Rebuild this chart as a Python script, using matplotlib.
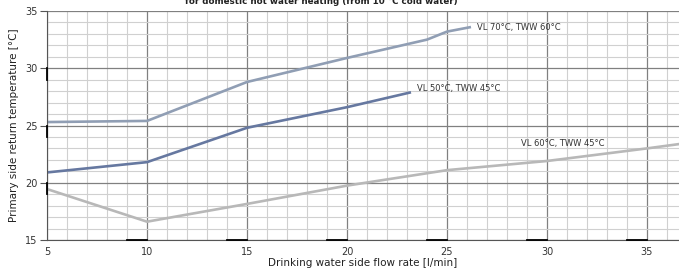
import matplotlib
matplotlib.use('Agg')
import matplotlib.pyplot as plt
from matplotlib.ticker import MultipleLocator

# flow rate [l/min] vs primary side return temperature [°C]
vl70_x = [5, 10, 15, 20, 24, 25, 26.2]
vl70_y = [25.3, 25.4, 28.8, 30.9, 32.5, 33.2, 33.6]
vl50_x = [5, 10, 15, 20, 23.2]
vl50_y = [20.9, 21.8, 24.8, 26.6, 27.9]
vl60_x = [5, 10, 15, 20, 25, 30, 35, 36.7]
vl60_y = [19.45, 16.6, 18.15, 19.75, 21.1, 21.9, 23.0, 23.4]

labels = ['VL 70°C, TWW 60°C', 'VL 50°C, TWW 45°C', 'VL 60°C, TWW 45°C']
label_pos = [(26.5, 33.55), (23.5, 28.25), (28.7, 23.45)]
colors = ['#909eb4', '#6678a0', '#b8b8b8']

fig = plt.figure(figsize=(6.79, 2.70), dpi=100)
ax = fig.add_axes([47/679, 30/270, 632/679, 229/270])

ax.set_xlim(5, 36.6)
ax.set_ylim(15, 35)
ax.xaxis.set_major_locator(MultipleLocator(5))
ax.xaxis.set_minor_locator(MultipleLocator(1))
ax.yaxis.set_major_locator(MultipleLocator(5))
ax.yaxis.set_minor_locator(MultipleLocator(1))
ax.grid(which='minor', color='#d0d0d0', lw=0.8)
ax.grid(which='major', color='#808080', lw=0.9)
ax.set_axisbelow(True)

for s in ['top', 'right']:
    ax.spines[s].set_visible(False)
ax.spines['left'].set_color('#555555')
ax.spines['bottom'].set_color('#555555')
ax.tick_params(which='major', axis='y', length=5, color='#555555', labelsize=7, labelcolor='#333333', pad=2)
ax.tick_params(which='major', axis='x', length=0, labelsize=7, labelcolor='#333333', pad=5)
ax.tick_params(which='minor', length=0)

# short black marks along the axes below each major tick
for t in [10, 15, 20, 25, 30, 35]:
    ax.plot([t - 1, t], [15, 15], color='black', lw=1.3, clip_on=False, zorder=5)
for t in [20, 25, 30]:
    ax.plot([5, 5], [t - 1, t], color='black', lw=1.3, clip_on=False, zorder=5)

ax.plot(vl70_x, vl70_y, color=colors[0], lw=1.9, solid_capstyle='butt')
ax.plot(vl50_x, vl50_y, color=colors[1], lw=1.9, solid_capstyle='butt')
ax.plot(vl60_x, vl60_y, color=colors[2], lw=1.9, solid_capstyle='butt')

for lab, (lx, ly) in zip(labels, label_pos):
    ax.text(lx, ly, lab, fontsize=6, color='#333333', va='center', ha='left')

ax.set_xlabel('Drinking water side flow rate [l/min]', fontsize=7.5, color='#222222', labelpad=1)
ax.set_ylabel('Primary side return temperature [°C]', fontsize=7.5, color='#222222', labelpad=4)

fig.text(321/679, 1 - 4/270, 'for domestic hot water heating (from 10 °C cold water)',
         ha='center', va='baseline', fontsize=6.3, fontweight='bold', color='#222222')

fig.savefig('out.png', dpi=100)
